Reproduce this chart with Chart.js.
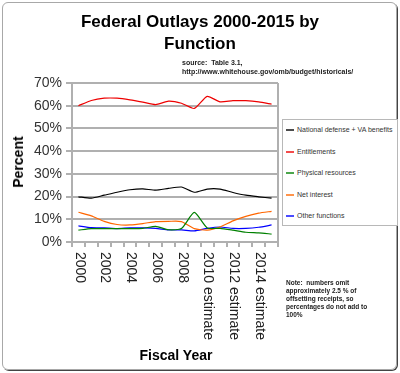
<!DOCTYPE html>
<html><head><meta charset="utf-8">
<script src="https://cdn.jsdelivr.net/npm/chart.js@4.4.0/dist/chart.umd.min.js"></script>
<style>
html,body{margin:0;padding:0;background:#fff;}
#wrap{position:relative;width:400px;height:373px;overflow:hidden;font-family:"Liberation Sans",Arial,sans-serif;}
#frame{position:absolute;left:2px;top:2px;width:393px;height:366px;border:1px solid #a8a8a8;border-radius:6px;box-shadow:1px 1px 0 #444;}
canvas{position:absolute;left:0;top:0;}
.t{position:absolute;white-space:nowrap;color:#000;}
#title{left:0;width:400px;top:11px;text-align:center;font-weight:bold;font-size:17px;line-height:22px;}
#source{left:182px;top:58px;font-size:7px;font-weight:bold;line-height:9px;color:#222;}
#ytitle{left:18px;top:162px;font-weight:bold;font-size:14px;transform:translate(-50%,-50%) rotate(-90deg);}
#xtitle{left:176px;top:355px;font-weight:bold;font-size:14px;transform:translate(-50%,-50%);}
#legend{position:absolute;left:282px;top:119px;width:114px;height:105px;border:1px solid #b8b8b8;background:#fff;}
.li{position:absolute;left:3px;height:10px;font-size:7px;line-height:10px;color:#333;white-space:nowrap;}
.li span{display:inline-block;width:8px;height:2px;vertical-align:middle;margin-right:3px;opacity:0.7;}
#note{left:286px;top:279px;font-size:6.5px;font-weight:bold;line-height:8px;color:#222;}
</style></head>
<body>
<div id="wrap">
<div id="frame"></div>
<canvas id="c" width="400" height="373"></canvas>
<div class="t" id="title">Federal Outlays 2000-2015 by<br>Function</div>
<div class="t" id="source">source:&nbsp; Table 3.1,<br>http://www.whitehouse.gov/omb/budget/historicals/</div>
<div class="t" id="ytitle">Percent</div>
<div class="t" id="xtitle">Fiscal Year</div>
<div id="legend"></div>
<div class="t" id="note">Note:&nbsp; numbers omit<br>approximately 2.5 % of<br>offsetting receipts, so<br>percentages do not add to<br>100%</div>
</div>
<script>
const categories = ["2000","2001","2002","2003","2004","2005","2006","2007","2008","2009",
  "2010 estimate","2011 estimate","2012 estimate","2013 estimate","2014 estimate","2015 estimate"];
const seriesNames = ["National defense + VA benefits","Entitlements","Physical resources","Net interest","Other functions"];
const defense     = [19.9,19.3,20.6,21.9,23.0,23.4,22.8,23.6,24.2,21.9,23.3,23.3,21.8,20.6,19.9,19.3];
const entitlements= [60.0,62.3,63.3,63.3,62.6,61.6,60.5,62.0,61.1,58.8,64.1,61.7,62.2,62.2,61.7,60.7];
const physical    = [5.2,5.9,5.9,5.9,5.9,6.0,6.9,5.4,5.9,13.0,6.2,6.0,5.2,4.3,4.0,3.5];
const netInterest = [13.1,11.5,9.1,7.7,7.5,8.1,9.0,9.1,9.0,5.9,5.2,6.6,9.3,11.3,12.7,13.5];
const otherFuncs  = [7.1,6.3,6.2,5.9,6.2,6.2,6.0,5.3,5.3,4.9,6.0,6.6,6.0,6.0,6.5,7.5];
const yTicks = [0,10,20,30,40,50,60,70];
const colors = ["#000000","#ee0000","#008000","#ff6600","#0000ff"];
const seriesData = [defense,entitlements,physical,netInterest,otherFuncs];

const datasets = seriesNames.map((n,i)=>({
  label:n, data:seriesData[i], borderColor:colors[i], backgroundColor:colors[i],
  borderWidth:1.2, pointRadius:0, tension:0.2, fill:false
}));

// legend
const lg = document.getElementById('legend');
seriesNames.forEach((n,i)=>{
  const d=document.createElement('div'); d.className='li';
  d.style.top=(5+i*21.5)+'px';
  d.innerHTML='<span style="background:'+colors[i]+'"></span>'+n;
  lg.appendChild(d);
});

const gridCol = '#b0b0b0';
const deco = {
  id:'deco',
  beforeDatasetsDraw(chart){
    const {ctx, chartArea:a} = chart;
    ctx.save();
    ctx.strokeStyle = gridCol; ctx.lineWidth = 2;
    ctx.beginPath();
    const r = Math.round(a.right);
    ctx.moveTo(r, Math.round(a.top)); ctx.lineTo(r, Math.round(a.bottom)+1);
    ctx.stroke();
    ctx.restore();
  },
  afterDraw(chart){
    const {ctx, chartArea:a} = chart;
    const x = chart.scales.x;
    ctx.save();
    ctx.fillStyle = '#222';
    ctx.font = '14px "Liberation Sans", Arial, sans-serif';
    ctx.textBaseline = 'middle'; ctx.textAlign = 'left';
    categories.forEach((c,i)=>{
      if(i%2) return;
      const px = x.getPixelForValue(i);
      ctx.save();
      ctx.translate(px+1, a.bottom+10);
      ctx.rotate(Math.PI/2);
      ctx.fillText(c,0,0);
      ctx.restore();
    });
    ctx.restore();
  }
};

new Chart(document.getElementById('c'),{
  type:'line',
  data:{labels:categories, datasets},
  options:{
    responsive:false, animation:false,
    layout:{padding:{top:83,right:122,left:0,bottom:0}},
    plugins:{legend:{display:false},tooltip:{enabled:false}},
    scales:{
      x:{type:'category', offset:true,
        grid:{offset:true, drawOnChartArea:false, drawTicks:true, tickLength:5, color:gridCol, lineWidth:2},
        border:{display:true,color:gridCol, width:2},
        ticks:{autoSkip:false, maxRotation:0, callback:()=>'' , padding:0},
        afterFit(s){ s.height = 131; }
      },
      y:{min:0,max:70,
        afterBuildTicks(s){ s.ticks = yTicks.map(v=>({value:v})); },
        ticks:{callback:v=>v+'%', color:'#333', font:{size:14,family:'"Liberation Sans", Arial, sans-serif'}, padding:4},
        grid:{color:gridCol, lineWidth:2, tickLength:6},
        border:{display:true,color:gridCol, width:2},
        afterFit(s){ s.width = 72; }
      }
    }
  },
  plugins:[deco]
});
</script>
</body></html>
